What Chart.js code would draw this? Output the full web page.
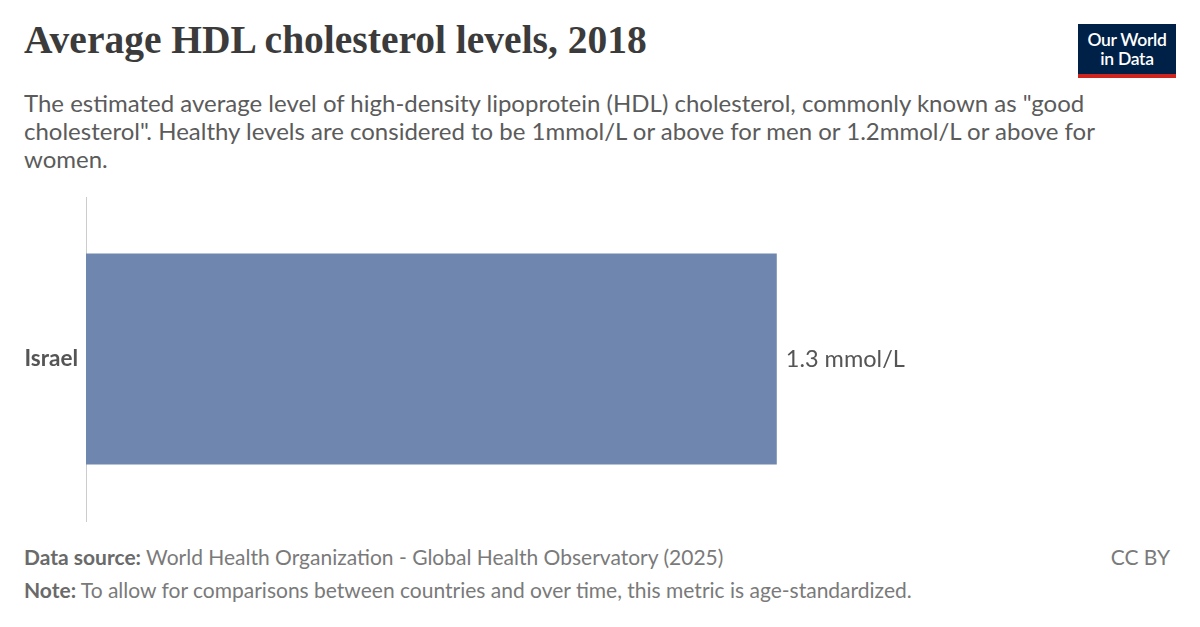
<!DOCTYPE html>
<html>
<head>
<meta charset="utf-8">
<script src="https://cdn.jsdelivr.net/npm/chart.js@4/dist/chart.umd.min.js"></script>
<style>
  html, body { margin: 0; padding: 0; background: #fff; }
  body { width: 1200px; height: 627px; position: relative; overflow: hidden; font-family: Lato, "Noto Sans", sans-serif; }
  #title { position: absolute; left: 24px; top: 18px; font-family: "Liberation Serif", "DejaVu Serif", serif; font-weight: 700; font-size: 39.5px; line-height: 45px; color: #3b3b3b; white-space: nowrap; }
  #subtitle { position: absolute; left: 24px; top: 89px; width: 1110px; font-size: 24px; line-height: 28px; color: #5b5b5b; }
  #logo { position: absolute; left: 1078px; top: 24px; width: 98px; height: 54px; background: #002147; box-sizing: border-box; border-bottom: 4px solid #ce261e; color: #fff; font-size: 17.5px; font-weight: 600; line-height: 19px; text-align: center; padding-top: 6px; letter-spacing: -0.3px; }
  #chartwrap { position: absolute; left: 0; top: 190px; width: 1200px; height: 340px; }
  #source, #note { position: absolute; left: 24px; font-size: 21px; line-height: 24px; color: #7a7a7a; white-space: nowrap; }
  #source { top: 545px; }
  #note { top: 578px; }
  #cc { position: absolute; right: 30px; top: 545px; font-size: 21px; line-height: 24px; color: #7a7a7a; }
  b { font-weight: 700; color: #6a6a6a; }
</style>
</head>
<body>
<div id="title">Average HDL cholesterol levels, 2018</div>
<div id="subtitle">The estimated average level of high-density lipoprotein (HDL) cholesterol, commonly known as "good cholesterol". Healthy levels are considered to be 1mmol/L or above for men or 1.2mmol/L or above for women.</div>
<div id="logo">Our World<br>in Data</div>
<div id="chartwrap"><canvas id="c"></canvas></div>
<div id="source"><b>Data source:</b> World Health Organization - Global Health Observatory (2025)</div>
<div id="note"><b>Note:</b> To allow for comparisons between countries and over time, this metric is age-standardized.</div>
<div id="cc">CC BY</div>
<script>
const countries = ["Israel"];
const hdlValues = [1.3];
const valueLabels = ["1.3 mmol/L"];

const valueLabelPlugin = {
  id: 'valueLabels',
  afterDatasetsDraw(chart) {
    const ctx = chart.ctx;
    const meta = chart.getDatasetMeta(0);
    ctx.save();
    ctx.font = '23.5px Lato, "Noto Sans", sans-serif';
    ctx.fillStyle = '#555555';
    ctx.textBaseline = 'middle';
    ctx.textAlign = 'left';
    meta.data.forEach((bar, i) => {
      ctx.fillText(valueLabels[i], bar.x + 9, bar.y);
    });
    ctx.restore();
  }
};

new Chart(document.getElementById('c'), {
  type: 'bar',
  data: {
    labels: countries,
    datasets: [{
      data: hdlValues,
      backgroundColor: '#6f87ae',
      borderWidth: 0,
      barPercentage: 1.0,
      categoryPercentage: 0.651
    }]
  },
  options: {
    indexAxis: 'y',
    responsive: true,
    maintainAspectRatio: false,
    animation: false,
    layout: { padding: { left: 0, right: 30, top: 7, bottom: 9 } },
    plugins: { legend: { display: false }, tooltip: { enabled: false } },
    scales: {
      x: {
        display: false,
        min: 0,
        max: 2.04
      },
      y: {
        afterFit(axis) { axis.width = 86; axis.paddingTop = 0; axis.paddingBottom = 0; },
        grid: { display: false },
        border: { display: true, color: '#cccccc', width: 1 },
        ticks: {
          color: '#555555',
          font: { family: 'Lato, "Noto Sans", sans-serif', size: 22.5, weight: 'bold' },
          padding: 0
        }
      }
    }
  },
  plugins: [valueLabelPlugin]
});
</script>
</body>
</html>
